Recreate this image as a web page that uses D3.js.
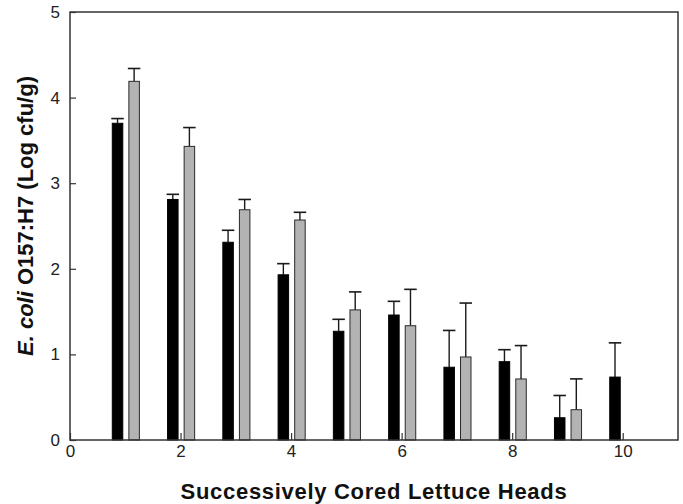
<!DOCTYPE html>
<html>
<head>
<meta charset="utf-8">
<script src="https://cdn.jsdelivr.net/npm/d3@7"></script>
<style>
  html, body { margin: 0; padding: 0; background: #fff; }
  svg { display: block; font-family: Arial, "Liberation Sans", Helvetica, sans-serif; }
</style>
</head>
<body>
<svg id="chart" width="683" height="504"></svg>
<script>
// Lettuce head number (order cored)
const heads = [1, 2, 3, 4, 5, 6, 7, 8, 9, 10];

// Black series: mean log cfu/g and upper error (SD)
const blackMeans = [3.70, 2.81, 2.31, 1.93, 1.27, 1.46, 0.85, 0.915, 0.26, 0.735];
const blackErrors = [0.055, 0.06, 0.14, 0.13, 0.14, 0.16, 0.43, 0.14, 0.26, 0.40];

// Gray series: mean log cfu/g and upper error (SD); no bar for head 10
const grayMeans = [4.19, 3.43, 2.69, 2.57, 1.52, 1.335, 0.97, 0.713, 0.354, null];
const grayErrors = [0.15, 0.22, 0.12, 0.09, 0.21, 0.425, 0.63, 0.39, 0.36, null];

const xTicks = [0, 2, 4, 6, 8, 10];
const yTicks = [0, 1, 2, 3, 4, 5];

const W = 683, H = 504;
const margin = { top: 12, right: 5, bottom: 64, left: 70 };
const svg = d3.select("#chart");

const x = d3.scaleLinear().domain([0, 11]).range([margin.left, W - margin.right]);
const y = d3.scaleLinear().domain([0, 5]).range([H - margin.bottom, margin.top]);

// bar geometry in x units, relative to each head number
const barW = 0.19;
const series = [
  { means: blackMeans, errors: blackErrors, offset: -0.14, fill: "#000", stroke: "#000" },
  { means: grayMeans, errors: grayErrors, offset: 0.16, fill: "#b3b3b3", stroke: "#2a2a2a" }
];

const plot = svg.append("g");

series.forEach(s => {
  const rows = heads.map((h, i) => ({ h, m: s.means[i], e: s.errors[i] })).filter(d => d.m != null);
  const g = plot.append("g");
  const bx = d => x(d.h + s.offset - barW / 2);
  const bw = x(barW) - x(0);

  // error bars (upper only)
  g.selectAll("line.err").data(rows).join("line")
    .attr("x1", d => x(d.h + s.offset)).attr("x2", d => x(d.h + s.offset))
    .attr("y1", d => y(d.m)).attr("y2", d => y(d.m + d.e))
    .attr("stroke", "#1a1a1a").attr("stroke-width", 1.4);
  g.selectAll("line.cap").data(rows).join("line")
    .attr("x1", d => x(d.h + s.offset) - bw / 2 - 1)
    .attr("x2", d => x(d.h + s.offset) + bw / 2 + 1)
    .attr("y1", d => y(d.m + d.e)).attr("y2", d => y(d.m + d.e))
    .attr("stroke", "#1a1a1a").attr("stroke-width", 1.6);

  g.selectAll("rect").data(rows).join("rect")
    .attr("x", bx).attr("width", bw)
    .attr("y", d => y(d.m)).attr("height", d => y(0) - y(d.m))
    .attr("fill", s.fill).attr("stroke", s.stroke).attr("stroke-width", 1);
});

// axes with inward ticks
const axisColor = "#333";
const xAxis = svg.append("g")
  .attr("transform", `translate(0,${y(0)})`)
  .call(d3.axisBottom(x).tickValues(xTicks).tickFormat(d3.format("d"))
    .tickSizeInner(-7).tickSizeOuter(0).tickPadding(5));
const yAxis = svg.append("g")
  .attr("transform", `translate(${x(0)},0)`)
  .call(d3.axisLeft(y).tickValues(yTicks).tickFormat(d3.format("d"))
    .tickSizeInner(-6).tickSizeOuter(0).tickPadding(10));

[xAxis, yAxis].forEach(a => {
  a.select(".domain").remove();
  a.selectAll(".tick line").attr("stroke", axisColor).attr("stroke-width", 1.2);
  a.selectAll(".tick text").attr("fill", "#222").style("font-size", "17px")
    .style("font-family", "Arial, 'Liberation Sans', sans-serif");
});

// frame around the plot area
svg.append("rect")
  .attr("x", x(0)).attr("y", y(5))
  .attr("width", x(11) - x(0)).attr("height", y(0) - y(5))
  .attr("fill", "none").attr("stroke", axisColor).attr("stroke-width", 1.5);

// axis titles
svg.append("text")
  .attr("x", (x(0) + x(11)) / 2).attr("y", 498.5)
  .attr("text-anchor", "middle")
  .style("font-size", "22px").style("font-weight", "bold").style("letter-spacing", "0.7px")
  .attr("fill", "#111")
  .text("Successively Cored Lettuce Heads");

const yl = svg.append("text")
  .attr("transform", `translate(33,216) rotate(-90)`)
  .attr("text-anchor", "middle")
  .style("font-size", "22px").style("font-weight", "bold")
  .attr("fill", "#111");
yl.append("tspan").style("font-style", "italic").text("E. coli");
yl.append("tspan").text(" O157:H7 (Log cfu/g)");
</script>
</body>
</html>
